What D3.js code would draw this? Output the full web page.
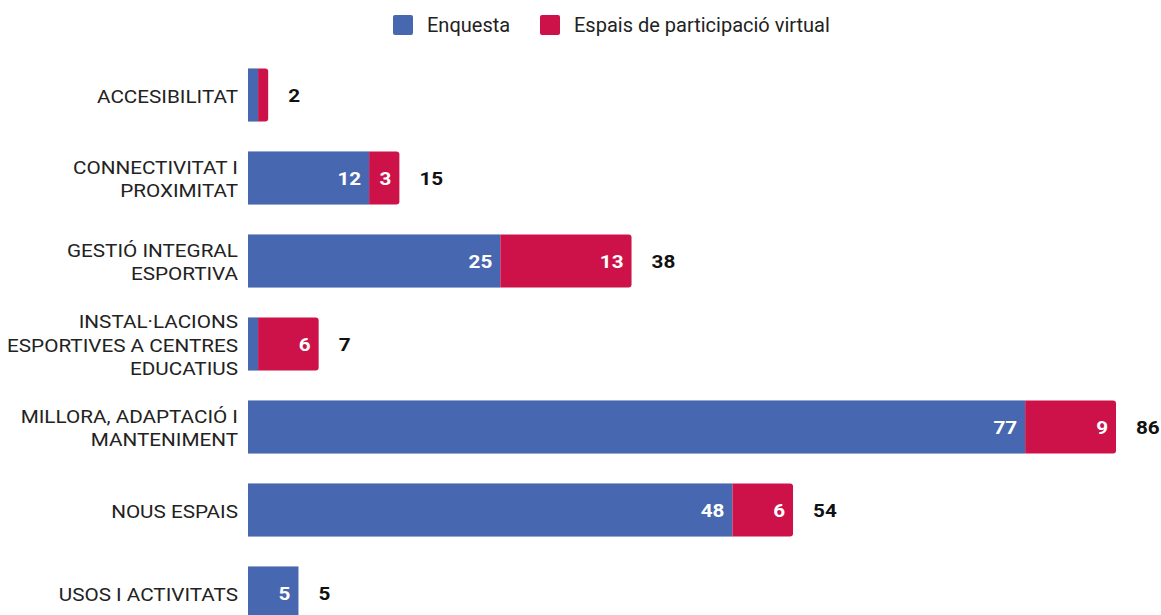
<!DOCTYPE html>
<html><head><meta charset="utf-8">
<script src="https://cdn.jsdelivr.net/npm/d3@7"></script>
<style>body{margin:0;background:#fff;}svg{display:block;font-family:Roboto,sans-serif;}</style>
</head><body><svg id="c" width="1161" height="615"></svg>
<script>
const categories = ["ACCESIBILITAT","CONNECTIVITAT I\nPROXIMITAT","GESTIÓ INTEGRAL\nESPORTIVA","INSTAL·LACIONS\nESPORTIVES A CENTRES\nEDUCATIUS","MILLORA, ADAPTACIÓ I\nMANTENIMENT","NOUS ESPAIS","USOS I ACTIVITATS"];
const enquesta = [1,12,25,1,77,48,5];
const espais = [1,3,13,6,9,6,0];
const seriesNames = ["Enquesta","Espais de participació virtual"];
const colors = ["#4767b0","#cc1248"];

const SX = 1.15;
const svg = d3.select("#c");
const x = d3.scaleLinear().domain([0,86]).range([248,1116]);
const y = d3.scaleBand().domain(categories).range([53.5,634.5]).paddingInner(0.36).paddingOuter(0.18);
const bh = y.bandwidth();

function stext(px,py,anchor,size,weight,fill,str){
  return svg.append("text").attr("transform",`translate(${px},${py}) scale(${SX},1)`)
    .attr("text-anchor",anchor).attr("font-size",size).attr("font-weight",weight).attr("fill",fill).text(str);
}

// legend
const legX = [393, 540];
seriesNames.forEach((n,i)=>{
  svg.append("rect").attr("x",legX[i]).attr("y",15).attr("width",20).attr("height",20).attr("rx",2).attr("fill",colors[i]);
  svg.append("text").attr("x",legX[i]+34).attr("y",32).attr("font-size",20).attr("fill","#222").text(n);
});

function rightRounded(x0,x1,y0,h,r){
  r = Math.min(r,(x1-x0));
  return `M${x0},${y0}H${x1-r}Q${x1},${y0} ${x1},${y0+r}V${y0+h-r}Q${x1},${y0+h} ${x1-r},${y0+h}H${x0}Z`;
}

categories.forEach((c,i)=>{
  const y0 = y(c);
  const cy = y0 + bh/2;
  const e = enquesta[i], s = espais[i], t = e+s;
  svg.append("rect").attr("x",x(0)).attr("y",y0).attr("width",x(e)-x(0)).attr("height",bh).attr("fill",colors[0]);
  if (s>0) svg.append("path").attr("d",rightRounded(x(e),x(t),y0,bh,3)).attr("fill",colors[1]);
  if (x(e)-x(0) > 30) stext(x(e)-8,cy+7.3,"end",18,"bold","#fff",e);
  if (x(t)-x(e) > 20) stext(x(t)-8,cy+7.3,"end",18,"bold","#fff",s);
  stext(x(t)+20,cy+7.3,"start",18,"bold","#111",t);
  const lines = c.split("\n");
  const lh = 23.7;
  lines.forEach((l,k)=>{
    stext(238, cy + 7.5 + (k-(lines.length-1)/2)*lh, "end", 18, "normal", "#222", l);
  });
});
</script></body></html>
